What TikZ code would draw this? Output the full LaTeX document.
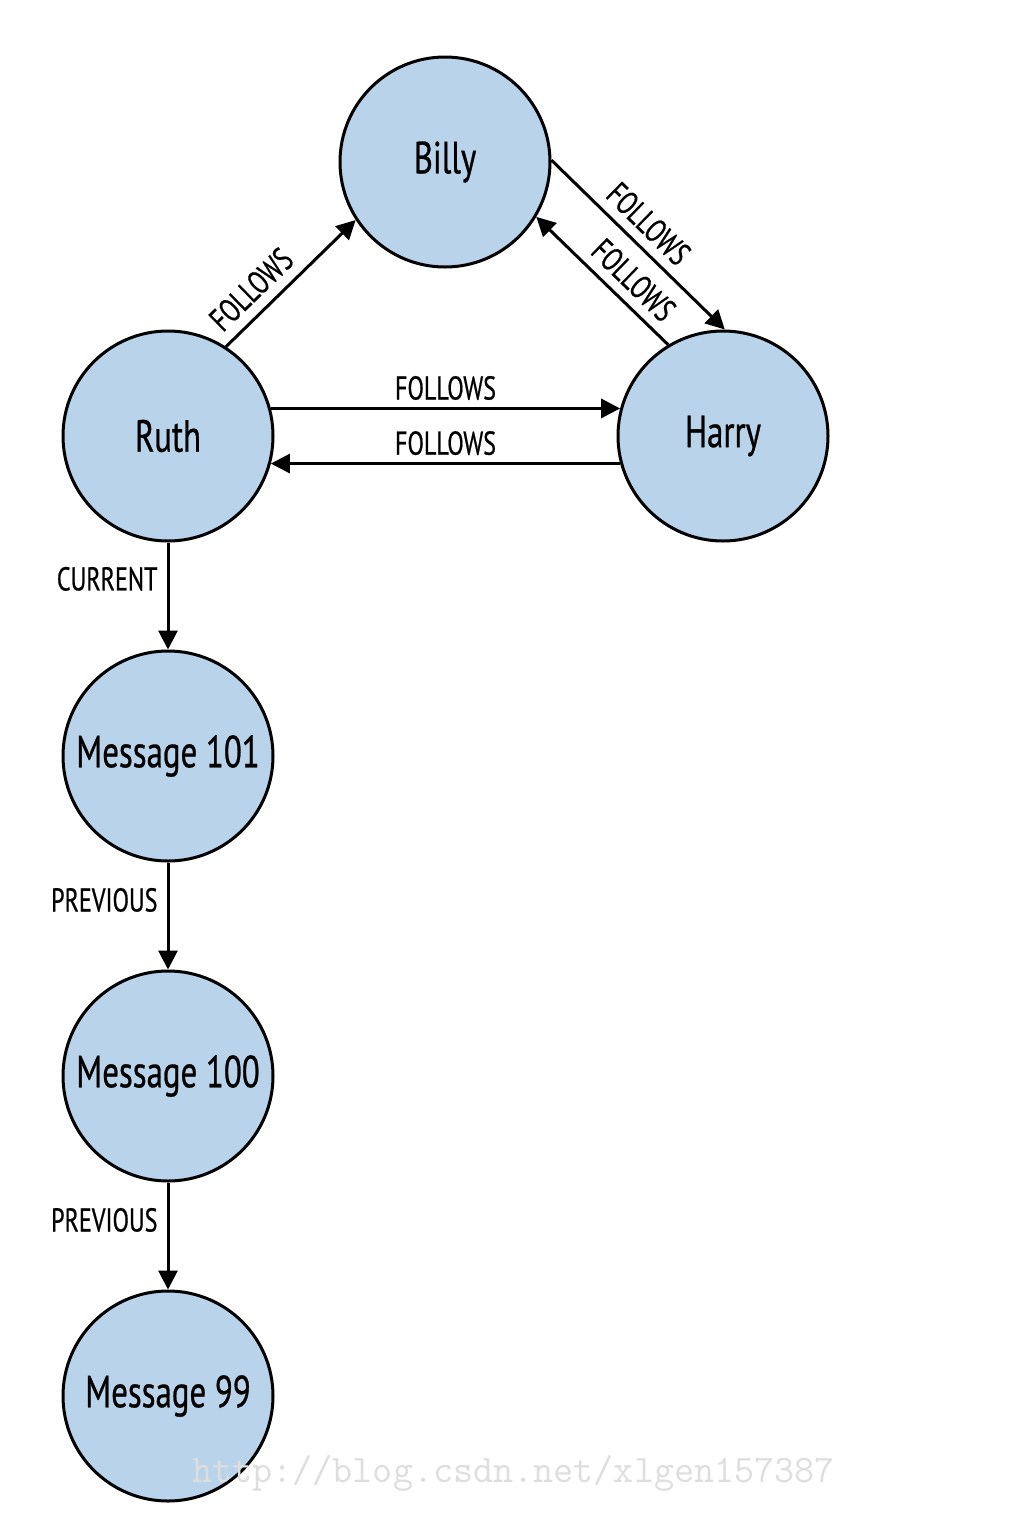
\documentclass[tikz,border=0pt]{standalone}
\usepackage{fontspec}
\setmainfont{PT Sans}[FakeStretch=0.73,FakeBold=0.6]
\usetikzlibrary{arrows.meta}
\definecolor{nodefill}{RGB}{185,212,234}
\definecolor{wmark}{RGB}{222,222,222}
\begin{document}
\begin{tikzpicture}[x=1pt,y=-1pt,
  person/.style={circle,draw=black,line width=3pt,fill=nodefill,minimum size=210pt,inner sep=0pt,font=\fontsize{45}{50}\selectfont},
  rel/.style={line width=3pt,-{Triangle[length=19pt,width=19pt]}},
  lab/.style={font=\fontsize{33}{36}\selectfont,inner sep=7pt}]
\useasboundingbox (0,0) rectangle (1032,1532);
\node[person] (billy) at (445,162) {Billy};
\node[person] (ruth) at (168,436) {Ruth};
\node[person] (harry) at (723,436) {Harry};
\node[person] (m101) at (168,756) {Message 101};
\node[person] (m100) at (168,1076) {Message 100};
\node[person] (m99) at (168,1396) {Message 99};

\draw[rel] (ruth.57) -- node[lab,sloped,above=3pt,pos=0.32] (l1) {FOLLOWS} (billy.213);
\draw[rel] (billy.1) -- node[lab,sloped,above=2pt,pos=0.47] (l2) {FOLLOWS} (harry.89);
\draw[rel] (harry.121) -- node[lab,sloped,above=2pt,pos=0.38] (l3) {FOLLOWS} (billy.329);
\draw[rel] (ruth.15) -- node[lab,above] (l4) {FOLLOWS} (harry.165);
\draw[rel] (harry.195) -- node[lab,above] (l5) {FOLLOWS} (ruth.345);
\draw[rel] (ruth.south) -- node[lab,left,pos=0.34,inner sep=9pt] (l6) {CURRENT} (m101.north);
\draw[rel] (m101.south) -- node[lab,left,pos=0.35,inner sep=9pt] (l7) {PREVIOUS} (m100.north);
\draw[rel] (m100.south) -- node[lab,left,pos=0.35,inner sep=9pt] (l8) {PREVIOUS} (m99.north);

\node[anchor=base west,inner sep=0pt,text=wmark,font=\ttfamily\fontsize{39}{41}\selectfont] (wm) at (192,1482) {http://blog.csdn.net/xlgen157387};
\end{tikzpicture}
\end{document}
